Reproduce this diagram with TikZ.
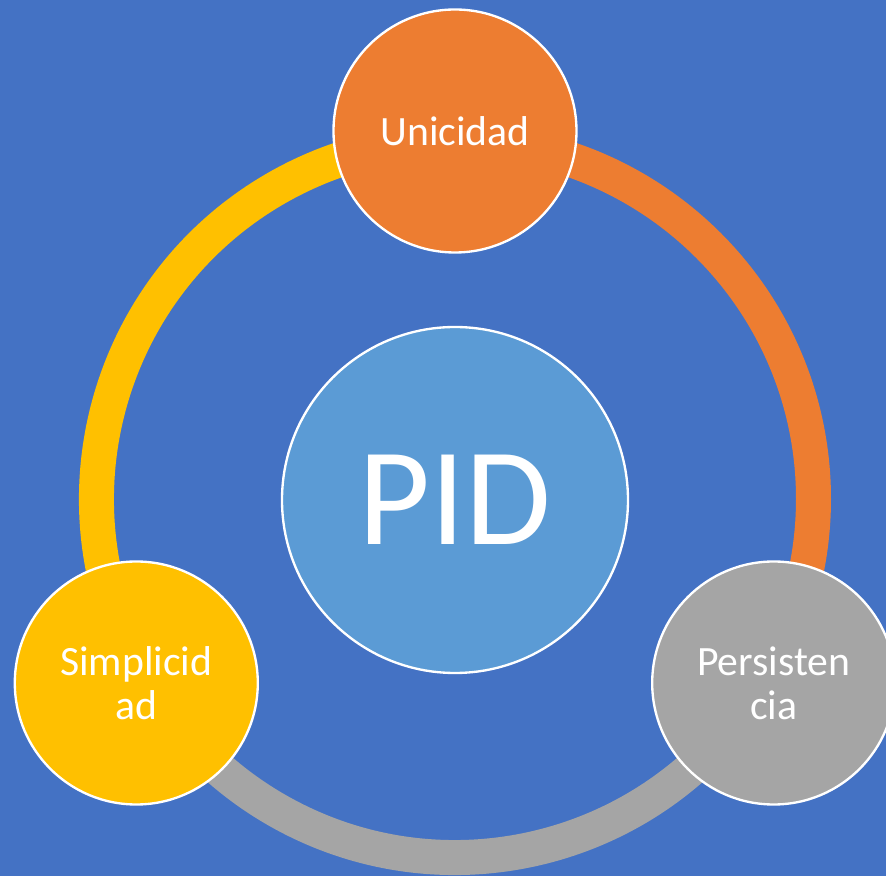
\documentclass[tikz,border=0pt]{standalone}
\usepackage{fontspec}
\setmainfont{Carlito}
\definecolor{fondo}{HTML}{4472C4}
\definecolor{centro}{HTML}{5B9BD5}
\definecolor{naranja}{HTML}{ED7D31}
\definecolor{gris}{HTML}{A5A5A5}
\definecolor{amarillo}{HTML}{FFC000}
\begin{document}
\begin{tikzpicture}[
        ring/.style = { line width = 1.05cm, line cap = butt },
        bola/.style = { circle, draw = white, line width = 2pt, minimum size = 7.29cm, inner sep = 0pt,
                        text = white, align = center, font = \fontsize{35.6}{37.6}\selectfont }
    ]
        % fondo
        \fill [fondo] ( -13.65, -11.31 ) rectangle ( 12.93, 14.97 );
        \useasboundingbox ( -13.65, -11.31 ) rectangle ( 12.93, 14.97 );

        % puntos del anillo
        \coordinate (ringU) at ( 90:10.755cm );
        \coordinate (ringP) at ( -30:10.755cm );
        \coordinate (ringS) at ( 210:10.755cm );

        % anillo
        \draw [ring, naranja] (ringU) arc [ start angle = 90, end angle = -30, radius = 10.755cm ];
        \draw [ring, gris] (ringP) arc [ start angle = -30, end angle = -150, radius = 10.755cm ];
        \draw [ring, amarillo] (ringS) arc [ start angle = 210, end angle = 90, radius = 10.755cm ];

        % circulo central
        \node [circle, draw = white, line width = 2pt, fill = centro, minimum size = 10.38cm, inner sep = 0pt,
               text = white, font = \fontsize{119}{126}\selectfont] (pid) at ( 0, -0.03 ) {PID};

        % circulos exteriores
        \node [bola, fill = naranja] (unicidad) at ( 90:11.04cm ) {Unicidad};
        \node [bola, fill = gris] (persistencia) at ( -30:11.04cm ) {Persisten\\cia};
        \node [bola, fill = amarillo] (simplicidad) at ( 210:11.04cm ) {Simplicid\\ad};
    \end{tikzpicture}
\end{document}
